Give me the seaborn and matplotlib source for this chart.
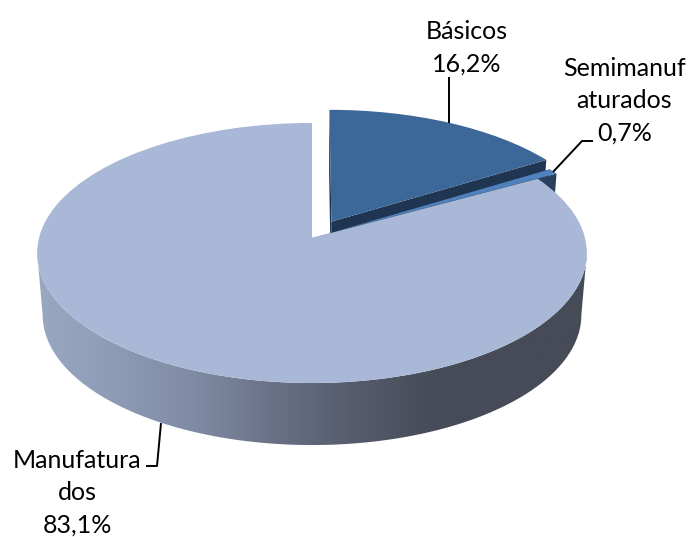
import numpy as np
import matplotlib
matplotlib.use("Agg")
import matplotlib.pyplot as plt
from matplotlib.patches import Polygon
from matplotlib.transforms import Transform
import seaborn as sns

# data
categories = ["Básicos", "Semimanuf\naturados", "Manufatura\ndos"]
percent = [16.2, 0.7, 83.1]
percent_text = ["16,2%", "0,7%", "83,1%"]

explode = [0.148, 0.09, 0]
top_colors = ["#3C6899", "#4F81BD", "#A9B8D6"]
face_colors = ["#1F3552", "#27415F", "#5A6072"]
side_stops = ["#9AA8C2", "#8E9BB5", "#7F8BA4", "#6A7187", "#565C6D", "#474C59", "#464B57", "#464B57"]

label_pos = [(466.5, 47.5), (624.5, 101), (77, 493)]
leaders = [
    ([449, 449], [77, 123]),
    ([553, 582, 593], [172, 141, 141]),
    ([161, 157, 146], [423, 466, 466]),
]

# pie geometry in pixels
CX, CY = 312, 238
A, K = 128.3, 0.1154
B = 273
DEPTH = 62
SHRINK = 0.98


class Perspective(Transform):
    input_dims = 2
    output_dims = 2

    def __init__(self, drop=0.0, scale=1.0):
        super().__init__()
        self.drop = drop
        self.scale = scale

    def transform_non_affine(self, values):
        values = np.asarray(values, dtype=float)
        u = values[:, 0]
        v = -values[:, 1]
        s = 1 / (1 - K * v)
        return np.column_stack([CX + self.scale * B * u * s, CY + self.drop + A * v * s])


top = Perspective()
bottom = Perspective(DEPTH, SHRINK)

sns.set_theme(style="white")
plt.rcParams["font.family"] = ["Lato", "DejaVu Sans"]

fig = plt.figure(figsize=(6.92, 5.37), dpi=100)
ax = fig.add_axes([0, 0, 1, 1])

wedges, _ = ax.pie(percent, explode=explode, colors=top_colors, startangle=90,
                   counterclock=False, wedgeprops=dict(linewidth=0))


def edge(center, angle):
    a = np.radians(angle)
    return [center[0] + np.cos(a), center[1] + np.sin(a)]


for i, w in enumerate(wedges):
    w.set_transform(top + ax.transData)
    w.set_zorder(2 + 2 * i + 1)
    apex = list(w.center)
    # radial cut faces of the slice
    for angle in (w.theta1, w.theta2):
        pts = np.array([apex, edge(w.center, angle)])
        up = top.transform_non_affine(pts)
        low = bottom.transform_non_affine(pts)
        ax.add_patch(Polygon(np.vstack([up, low[::-1]]), closed=True, color=face_colors[i],
                             linewidth=0, zorder=2 + 2 * i))

# front wall of the big slice, shaded left to right
theta = np.radians(np.linspace(-6.6, -173.4, 200))
rim = np.column_stack([np.cos(theta), np.sin(theta)])
wall = np.vstack([top.transform_non_affine(rim), bottom.transform_non_affine(rim)[::-1]])
clip = Polygon(wall, closed=True, transform=ax.transData)
shade = sns.blend_palette(side_stops, as_cmap=True)
im = ax.imshow(np.linspace(0, 1, 256)[None, :], cmap=shade, extent=[35, 590, 450, 200],
               aspect="auto", zorder=6)
im.set_clip_path(clip)

for (lx, ly) in leaders:
    ax.plot(lx, ly, color="black", lw=1.4, solid_capstyle="butt", zorder=9)

for name, pct, (x, y) in zip(categories, percent_text, label_pos):
    ax.text(x, y, name + "\n" + pct, ha="center", va="center", fontsize=18, color="black",
            linespacing=1.5, zorder=10)

ax.set_xlim(0, 692)
ax.set_ylim(537, 0)
ax.set_aspect("auto")
ax.axis("off")

fig.savefig("out.png", dpi=100)
